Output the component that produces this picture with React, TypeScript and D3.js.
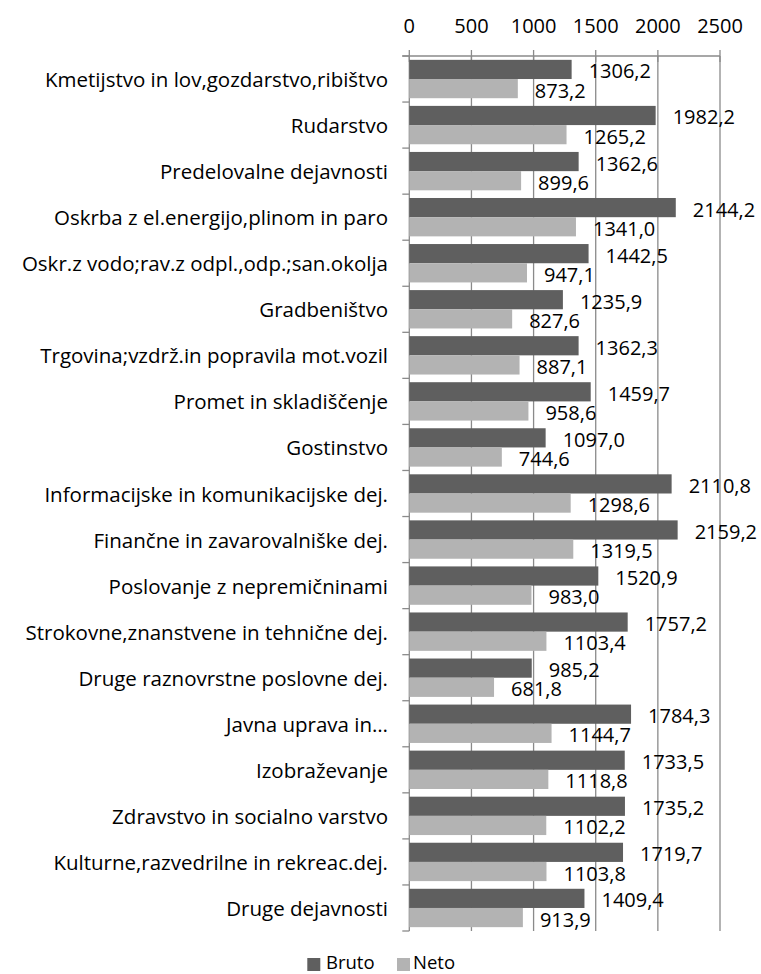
import React from "react";
import * as d3 from "d3";

const categories = [
  "Kmetijstvo in lov,gozdarstvo,ribištvo",
  "Rudarstvo",
  "Predelovalne dejavnosti",
  "Oskrba z el.energijo,plinom in paro",
  "Oskr.z vodo;rav.z odpl.,odp.;san.okolja",
  "Gradbeništvo",
  "Trgovina;vzdrž.in popravila mot.vozil",
  "Promet in skladiščenje",
  "Gostinstvo",
  "Informacijske in komunikacijske dej.",
  "Finančne in zavarovalniške dej.",
  "Poslovanje z nepremičninami",
  "Strokovne,znanstvene in tehnične dej.",
  "Druge raznovrstne poslovne dej.",
  "Javna uprava in…",
  "Izobraževanje",
  "Zdravstvo in socialno varstvo",
  "Kulturne,razvedrilne in rekreac.dej.",
  "Druge dejavnosti",
];

const bruto = [
  1306.2, 1982.2, 1362.6, 2144.2, 1442.5, 1235.9, 1362.3, 1459.7, 1097.0,
  2110.8, 2159.2, 1520.9, 1757.2, 985.2, 1784.3, 1733.5, 1735.2, 1719.7, 1409.4,
];

const neto = [
  873.2, 1265.2, 899.6, 1341.0, 947.1, 827.6, 887.1, 958.6, 744.6,
  1298.6, 1319.5, 983.0, 1103.4, 681.8, 1144.7, 1118.8, 1102.2, 1103.8, 913.9,
];

const seriesNames = ["Bruto", "Neto"];
const seriesColors = ["#5f5f5f", "#b3b3b3"];
const xTicks = [0, 500, 1000, 1500, 2000, 2500];

const FONT = "'Open Sans', sans-serif";

export default function App() {
  const W = 761;
  const H = 974;
  const x = d3.scaleLinear().domain([0, 2500]).range([409.3, 720]);
  const y = d3.scaleBand<string>().domain(categories).range([56, 931]);
  const inner = d3
    .scaleBand<string>()
    .domain(seriesNames)
    .range([0, y.bandwidth()])
    .paddingInner(0)
    .paddingOuter(0.2);
  const fmt = (v: number) => d3.format(".1f")(v).replace(".", ",");
  const series = [bruto, neto];
  const gridColor = "#8a8a8a";
  const top = y.range()[0];
  const bottom = y.range()[1];
  const boundaries = categories.map((c) => y(c) as number).concat([bottom]);

  return (
    <svg
      width={W}
      height={H}
      style={{ position: "absolute", left: 0, top: 0, background: "#fff" }}
    >
      {/* gridlines */}
      {xTicks.map((t) => (
        <line
          key={"g" + t}
          x1={x(t)}
          x2={x(t)}
          y1={top}
          y2={bottom}
          stroke={gridColor}
          strokeWidth={1.3}
        />
      ))}
      {/* top axis */}
      <line x1={x(0) - 7} x2={x(2500)} y1={top} y2={top} stroke={gridColor} strokeWidth={1.3} />
      {xTicks.map((t) => (
        <g key={"t" + t}>
          <line x1={x(t)} x2={x(t)} y1={top - 6} y2={top + 6} stroke={gridColor} strokeWidth={1.3} />
          <text
            x={x(t)}
            y={25}
            textAnchor="middle"
            dominantBaseline="central"
            fontFamily={FONT}
            fontSize={20}
            fill="#000"
          >
            {t}
          </text>
        </g>
      ))}
      {/* left axis ticks */}
      {boundaries.map((b, i) => (
        <line
          key={"b" + i}
          x1={x(0) - 7}
          x2={x(0)}
          y1={b}
          y2={b}
          stroke={gridColor}
          strokeWidth={1.3}
        />
      ))}
      {/* category labels */}
      {categories.map((c) => (
        <text
          key={"c" + c}
          x={388}
          y={(y(c) as number) + y.bandwidth() / 2}
          textAnchor="end"
          dominantBaseline="central"
          fontFamily={FONT}
          fontSize={20.5}
          fill="#000"
        >
          {c}
        </text>
      ))}
      {/* bars */}
      {categories.map((c, i) =>
        series.map((s, si) => {
          const yy = (y(c) as number) + (inner(seriesNames[si]) as number);
          return (
            <rect
              key={c + si}
              x={x(0)}
              y={yy}
              width={x(s[i]) - x(0)}
              height={inner.bandwidth()}
              fill={seriesColors[si]}
            />
          );
        })
      )}
      {/* data labels */}
      {categories.map((c, i) =>
        series.map((s, si) => {
          const yy = (y(c) as number) + (inner(seriesNames[si]) as number) + inner.bandwidth() / 2 + 1.5;
          return (
            <text
              key={"l" + c + si}
              x={x(s[i]) + 17}
              y={yy}
              textAnchor="start"
              dominantBaseline="central"
              fontFamily={FONT}
              fontSize={20}
              fill="#000"
            >
              {fmt(s[i])}
            </text>
          );
        })
      )}
      {/* legend */}
      <rect x={307.3} y={958} width={13} height={13} fill={seriesColors[0]} />
      <text x={326} y={968.5} fontFamily={FONT} fontSize={18.5} fill="#000">
        Bruto
      </text>
      <rect x={397} y={958} width={13} height={13} fill={seriesColors[1]} />
      <text x={413} y={968.5} fontFamily={FONT} fontSize={18.5} fill="#000">
        Neto
      </text>
    </svg>
  );
}
